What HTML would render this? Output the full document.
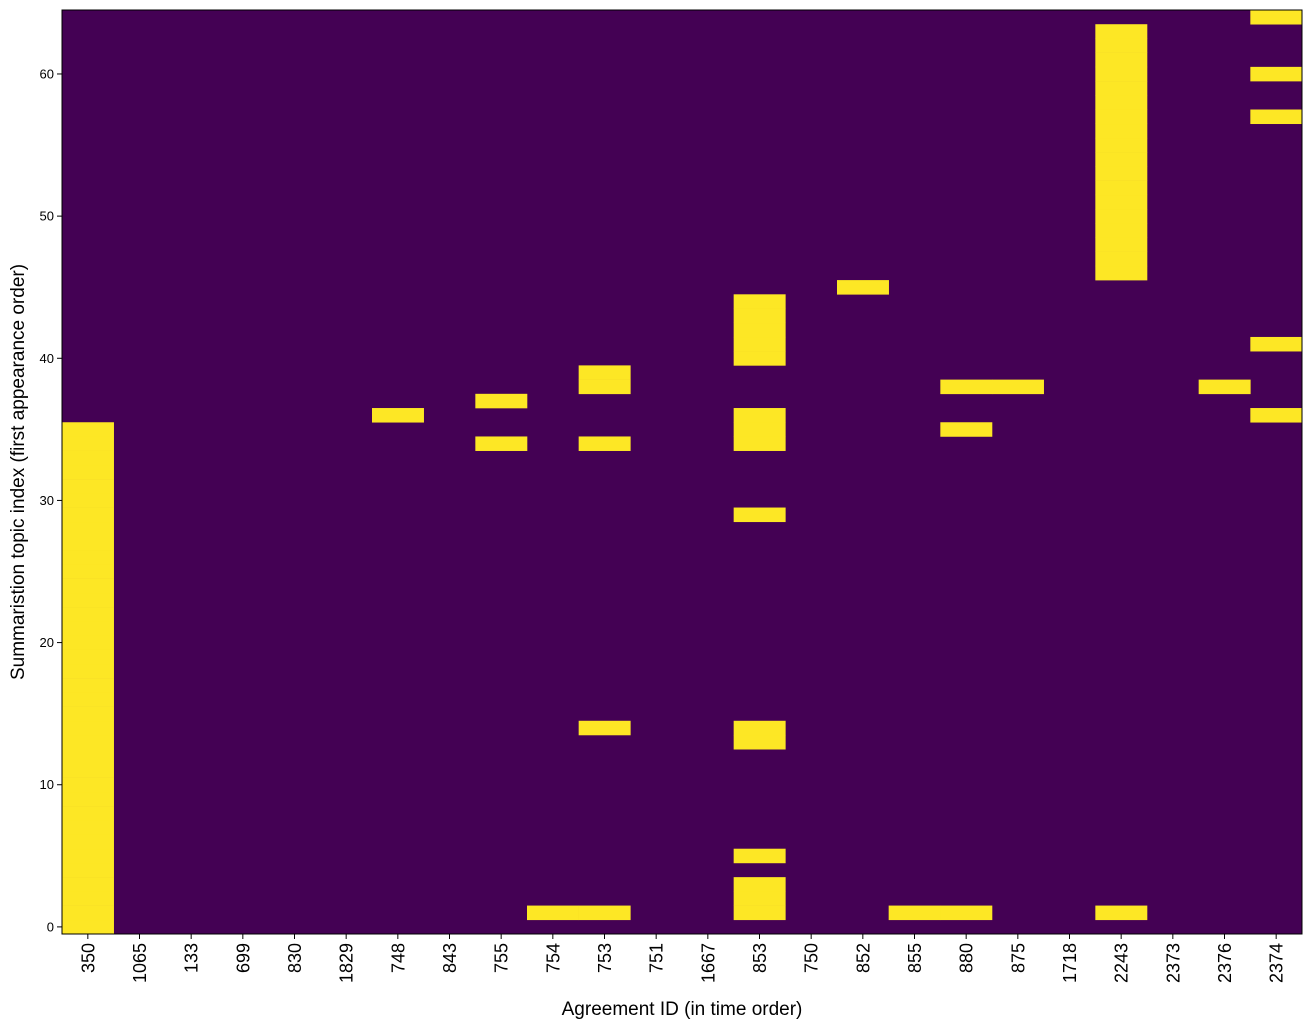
<!DOCTYPE html>
<html><head><meta charset="utf-8"><style>
body{margin:0;background:#fff;}
svg text{font-family:"Liberation Sans","DejaVu Sans",sans-serif;fill:#000;}
</style></head><body>
<svg id="chart" width="1312" height="1029"></svg>
<script>
const categories=["350","1065","133","699","830","1829","748","843","755","754","753","751","1667","853","750","852","855","880","875","1718","2243","2373","2376","2374"];
const yTicks=[0,10,20,30,40,50,60];
const rowCount=65;
// active topic rows per agreement column
const col350=Array.from({length:36},(_,i)=>i);
const col748=[36];
const col755=[34,37];
const col754=[1];
const col753=[1,14,34,38,39];
const col853=[1,2,3,5,13,14,29,34,35,36,40,41,42,43,44];
const col852=[45];
const col855=[1];
const col880=[1,35,38];
const col875=[38];
const col2243=[1].concat(Array.from({length:18},(_,i)=>46+i));
const col2376=[38];
const col2374=[36,41,57,60,64];
const activeRows=[col350,[],[],[],[],[],col748,[],col755,col754,col753,[],[],col853,[],col852,col855,col880,col875,[],col2243,[],col2376,col2374];

const NS="http://www.w3.org/2000/svg";
const svg=document.getElementById('chart');
const L=62,R=1302,T=10,B=934;
const cw=(R-L)/categories.length;
const xs=i=>L+i*cw;
const ys=v=>B-(v+0.5)*(B-T)/rowCount;
function mk(tag,attrs,parent){const e=document.createElementNS(NS,tag);for(const k in attrs)e.setAttribute(k,attrs[k]);(parent||svg).appendChild(e);return e;}
const bg=mk('rect',{x:L,y:T,width:R-L,height:B-T,fill:'#440154'});


const rh=(B-T)/rowCount;
activeRows.forEach((rows,ci)=>{rows.forEach(r=>{
  const c=mk('rect',{x:xs(ci),y:ys(r)-rh/2,width:cw+0.3,height:rh+0.3,fill:'#fde725'});
  
  
});});
const frame=mk('rect',{x:L,y:T,width:R-L,height:B-T,fill:'none',stroke:'#000','stroke-width':1});


yTicks.forEach(v=>{
  const y=ys(v);
  mk('line',{x1:L-5,x2:L,y1:y,y2:y,stroke:'#000'});
  const t=mk('text',{x:L-8,y:y+4.5,'text-anchor':'end','font-size':13});
  t.textContent=v;
  
  
});
categories.forEach((c,i)=>{
  const x=xs(i)+cw/2;
  mk('line',{x1:x,x2:x,y1:B,y2:B+5,stroke:'#000'});
  const t=mk('text',{x:0,y:0,'text-anchor':'end','font-size':18,transform:`translate(${x+6.5},${B+9}) rotate(-90)`});
  t.textContent=c;
  
  
});
const xt=mk('text',{x:(L+R)/2,y:1015,'text-anchor':'middle','font-size':19});
xt.textContent='Agreement ID (in time order)';


const yt=mk('text',{x:0,y:0,'text-anchor':'middle','font-size':19,transform:`translate(24,${(T+B)/2}) rotate(-90)`});
yt.textContent='Summaristion topic index (first appearance order)';


</script>
</body></html>
